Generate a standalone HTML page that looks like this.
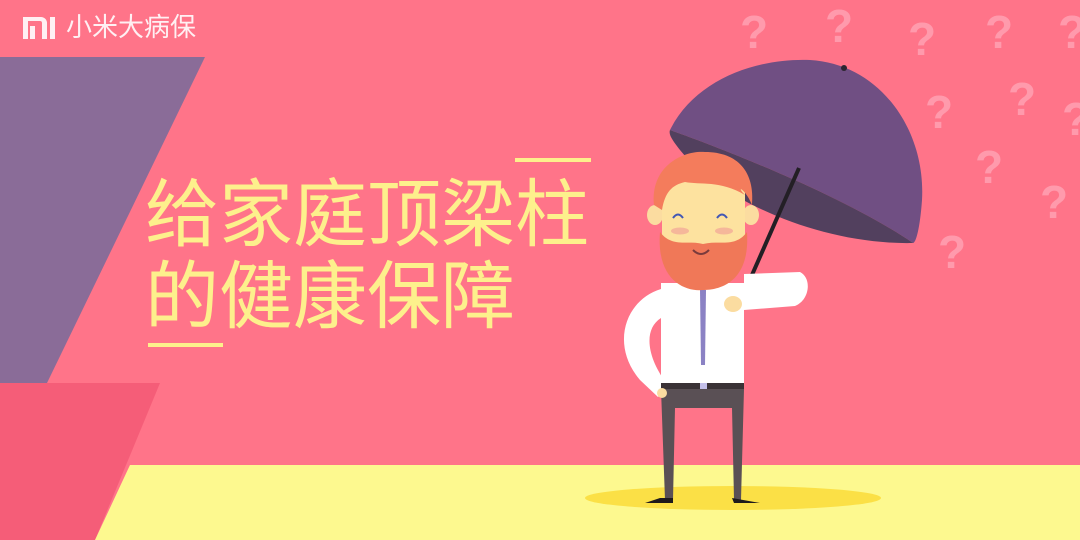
<!DOCTYPE html>
<html><head><meta charset="utf-8"><style>
html,body{margin:0;padding:0}
body{width:1080px;height:540px;overflow:hidden;background:#ff7489;position:relative;font-family:"Liberation Sans","Noto Sans CJK SC",sans-serif}
svg{position:absolute;left:0;top:0}
.t{position:absolute;color:#fdf08c;font-size:74px;line-height:1;letter-spacing:0px;font-family:"Liberation Sans","Noto Sans CJK SC",sans-serif;font-weight:400;white-space:nowrap}
.logo{position:absolute;left:66px;top:14px;color:#fff0f3;font-size:26px;line-height:1;white-space:nowrap}
</style></head><body>
<svg width="1080" height="540">
  <polygon points="0,57 205,57 0,480" fill="#8a6c98"/>
  <polygon points="0,383 160,383 95,540 0,540" fill="#f55d78"/>
  <polygon points="130,465 1080,465 1080,540 95,540" fill="#fdf98f"/>
  <ellipse cx="733" cy="498" rx="148" ry="12" fill="#fbe046"/>
  <g fill="#fff0f3">
    <path d="M23,17 h18 a6,6 0 0 1 6,6 v16 h-5 v-16 a2,2 0 0 0 -2,-2 h-12 v18 h-5 Z"/>
    <rect x="30" y="26" width="5" height="13"/>
    <rect x="50" y="17" width="5" height="22"/>
  </g>
  <g fill="#ff9aac" font-size="46" font-weight="bold" font-family="Liberation Sans, sans-serif">
    <text x="740" y="48">?</text>
    <text x="825" y="42">?</text>
    <text x="908" y="55">?</text>
    <text x="985" y="48">?</text>
    <text x="1058" y="48">?</text>
    <text x="925" y="128">?</text>
    <text x="1008" y="115">?</text>
    <text x="1062" y="135">?</text>
    <text x="975" y="183">?</text>
    <text x="1040" y="218">?</text>
    <text x="938" y="268">?</text>
  </g>
  <g>
    <path d="M670,130 C695,80 755,58 810,60 C880,64 926,130 922,200 C920,228 916,243 913,243 C850,200 740,155 670,130 Z" fill="#704f83"/>
    <path d="M670,130 C740,155 850,200 913,243 C820,245 720,200 680,150 C674,142 668,135 670,130 Z" fill="#52405e"/>
    <circle cx="844" cy="68" r="3" fill="#2c2530"/>
    <line x1="799" y1="168" x2="741" y2="300" stroke="#231f25" stroke-width="4"/>
    <path d="M741,300 L728,306 A7,7 0 0 0 742,312" fill="none" stroke="#231f25" stroke-width="3"/>
  </g>
  <g>
    <path d="M661,289 C625,300 610,345 640,380 L658,397 L668,385 C648,360 642,330 661,318 Z" fill="#ffffff"/>
    <path d="M744,274 L800,272 C812,278 810,300 795,306 L744,310 Z" fill="#ffffff"/>
    <rect x="661" y="283" width="83" height="102" fill="#ffffff"/>
    <polygon points="700,290 706,290 705,365 701,365" fill="#8b82c4"/>
    <rect x="661" y="383" width="83" height="6" fill="#3a3236"/>
    <rect x="700" y="383" width="7" height="6" fill="#c4c0ea"/>
    <path d="M661,389 L744,389 L741,500 L734,500 L732,408 L675,408 L673,500 L665,500 Z" fill="#5a5055"/>
    <path d="M645,503 L673,503 L673,498 L660,498 Z M732,498 L760,503 L734,503 Z" fill="#1e1a1c"/>
    <circle cx="662" cy="393" r="5" fill="#fbdca0"/>
    <ellipse cx="733" cy="304" rx="9" ry="8" fill="#fbdca0"/>
    <ellipse cx="655" cy="215" rx="8" ry="10" fill="#fbdca0"/>
    <ellipse cx="751" cy="215" rx="8" ry="10" fill="#fbdca0"/>
    <rect x="662" y="180" width="83" height="70" rx="10" fill="#fde29f"/>
    <path d="M660,232 C656,280 685,292 703,290 C725,290 750,278 747,232 C735,248 720,240 703,244 C688,240 672,248 660,232 Z" fill="#f07858"/>
    <path d="M654,205 C650,165 685,150 705,152 C738,152 755,172 752,205 C745,188 735,185 745,195 C720,180 700,185 685,182 C672,185 665,192 662,210 Z" fill="#f47c5c"/>
    <path d="M673,218 q5,-7 10,0 M717,218 q5,-7 10,0" fill="none" stroke="#4257b4" stroke-width="2"/>
    <ellipse cx="680" cy="231" rx="9" ry="3.5" fill="#f5b79a"/>
    <ellipse cx="724" cy="231" rx="9" ry="3.5" fill="#f5b79a"/>
    <path d="M693,250 q8,8 16,0" fill="none" stroke="#7a3b3c" stroke-width="2"/>
  </g>
  <rect x="515" y="158" width="76" height="4" fill="#fdf08c"/>
  <rect x="148" y="343" width="75" height="4" fill="#fdf08c"/>
</svg>
<div class="logo">小米大病保</div>
<div class="t" style="left:145px;top:178px">给家庭顶梁柱</div>
<div class="t" style="left:145px;top:260px">的健康保障</div>
</body></html>
